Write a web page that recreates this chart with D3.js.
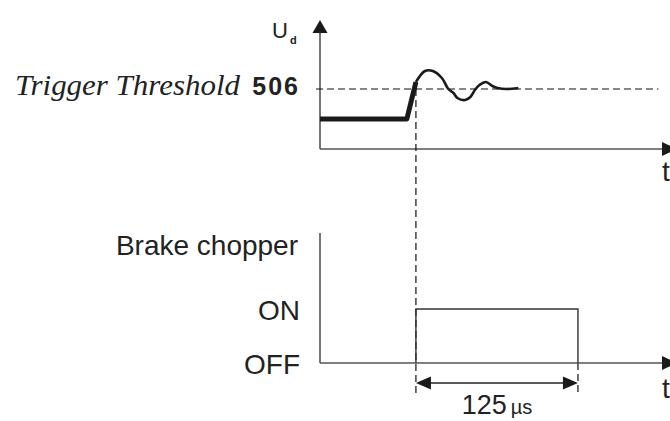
<!DOCTYPE html>
<meta charset="utf-8">
<head>
    <title>Brake chopper trigger</title>
</head>
<style>
  body { margin: 0; background: #fff; overflow: hidden; }
  svg { display: block; }
  .lbl { font-family: "Liberation Sans", Arial, sans-serif; fill: #222; }
  .axis { stroke: #555; stroke-width: 1.6px; fill: none; }
  .guide { stroke: #111; stroke-width: 1.2px; stroke-dasharray: 7,4; fill: none; }
</style>
<body>
<script src="https://cdn.jsdelivr.net/npm/d3@7"></script>
<script>
// time in microseconds, voltage in volts
var curveT   = [74, 81, 87, 94, 99, 103, 106, 112, 116, 120, 123, 128, 133, 137, 144, 153];
var curveU   = [513, 524, 524, 517, 506, 502, 497, 495, 498, 506, 510, 513, 509, 507, 506, 507];
var preT     = [0, 67, 74];
var preU     = [476, 476, 513];
var threshold = 506;
var thresholdEnd = 261;
var triggerT = 74;
var pulseLen = 125;
var states = ["OFF", "ON"];
var brakeT = [74, 74, 199, 199];
var brakeS = ["OFF", "ON", "ON", "OFF"];

var width = 670, height = 421;

var svg = d3.select("body").append("svg")
    .attr("width", width)
    .attr("height", height);

// shared time axis
var x = d3.scaleLinear().domain([0, 270]).range([320, 670]);

// top panel: voltage
var yU = d3.scaleLinear().domain([446, 576]).range([149, 19]);
// bottom panel: chopper state
var yS = d3.scalePoint().domain(states).range([363, 309]);

function arrow(g, tipX, tipY, dir, len, half) {
  var pts;
  if (dir === "up") pts = [[tipX, tipY], [tipX - half, tipY + len], [tipX + half, tipY + len]];
  else if (dir === "right") pts = [[tipX, tipY], [tipX - len, tipY - half], [tipX - len, tipY + half]];
  else pts = [[tipX, tipY], [tipX + len, tipY - half], [tipX + len, tipY + half]];
  g.append("path").attr("d", "M" + pts.join("L") + "Z").attr("fill", "#1a1a1a");
}

// ---- top panel axes
svg.append("line").attr("class", "axis")
    .attr("x1", x(0)).attr("x2", x(0))
    .attr("y1", yU(446)).attr("y2", yU(570));
arrow(svg, x(0), 20, "up", 13, 7.5);
svg.append("line").attr("class", "axis")
    .attr("x1", x(0)).attr("x2", 664)
    .attr("y1", yU(446)).attr("y2", yU(446));
arrow(svg, 677, yU(446), "right", 15, 7);

// threshold
svg.append("line").attr("class", "guide")
    .attr("x1", x(0) - 4).attr("x2", x(thresholdEnd))
    .attr("y1", yU(threshold)).attr("y2", yU(threshold));

// trigger vertical
svg.append("line").attr("class", "guide")
    .attr("x1", x(triggerT)).attr("x2", x(triggerT))
    .attr("y1", yU(threshold)).attr("y2", 393);
svg.append("line").attr("class", "guide")
    .attr("x1", x(triggerT + pulseLen)).attr("x2", x(triggerT + pulseLen))
    .attr("y1", yS("OFF")).attr("y2", 393);

// voltage curve
var pre = preT.map(function(t, i) { return [t, preU[i]]; });
var post = curveT.map(function(t, i) { return [t, curveU[i]]; });
var lineU = d3.line().x(function(d) { return x(d[0]); }).y(function(d) { return yU(d[1]); });

svg.append("path")
    .attr("d", lineU(pre))
    .attr("fill", "none").attr("stroke", "#1a1a1a")
    .attr("stroke-width", 5).attr("stroke-linejoin", "round");
svg.append("path")
    .attr("d", lineU.curve(d3.curveCatmullRom)(post))
    .attr("fill", "none").attr("stroke", "#1a1a1a")
    .attr("stroke-width", 2.6).attr("stroke-linejoin", "round");

// labels top
svg.append("text").attr("class", "lbl")
    .attr("x", 272).attr("y", 38)
    .style("font-size", "22px").text("U");
svg.append("text").attr("class", "lbl")
    .attr("x", 290).attr("y", 44)
    .style("font-size", "11px").style("font-weight", "bold").text("d");

svg.append("text")
    .attr("x", 15).attr("y", 95)
    .attr("textLength", 225).attr("lengthAdjust", "spacingAndGlyphs")
    .style("font-family", "'Liberation Serif', 'Times New Roman', serif")
    .style("font-style", "italic").style("font-size", "30px").style("fill", "#222")
    .text("Trigger Threshold");
svg.append("text").attr("class", "lbl")
    .attr("x", 300).attr("y", 95).attr("text-anchor", "end")
    .style("font-size", "25px").style("font-weight", "bold").style("letter-spacing", "2px")
    .text(threshold);

svg.append("text").attr("class", "lbl")
    .attr("x", 662).attr("y", 181)
    .style("font-size", "28px").text("t");

// ---- bottom panel
svg.append("line").attr("class", "axis")
    .attr("x1", x(0)).attr("x2", x(0))
    .attr("y1", 233).attr("y2", yS("OFF"));
svg.append("line").attr("class", "axis")
    .attr("x1", x(0)).attr("x2", 664)
    .attr("y1", yS("OFF")).attr("y2", yS("OFF"));
arrow(svg, 677, yS("OFF"), "right", 15, 7);

var brake = brakeT.map(function(t, i) { return [t, brakeS[i]]; });
svg.append("path")
    .attr("d", d3.line().x(function(d) { return x(d[0]); }).y(function(d) { return yS(d[1]); })(brake))
    .attr("fill", "none").attr("stroke", "#333").attr("stroke-width", 1.4);

svg.selectAll(".state")
    .data(states)
  .enter().append("text")
    .attr("class", "lbl state")
    .attr("x", 300).attr("y", function(d) { return yS(d); })
    .attr("dy", "0.38em").attr("text-anchor", "end")
    .style("font-size", "28px")
    .text(function(d) { return d; });

svg.append("text").attr("class", "lbl")
    .attr("x", 298).attr("y", 255).attr("text-anchor", "end")
    .style("font-size", "28px").text("Brake chopper");

svg.append("text").attr("class", "lbl")
    .attr("x", 662).attr("y", 398)
    .style("font-size", "28px").text("t");

// dimension arrow for pulse length
var dimY = 383;
svg.append("line")
    .attr("x1", x(triggerT) + 10).attr("x2", x(triggerT + pulseLen) - 10)
    .attr("y1", dimY).attr("y2", dimY)
    .attr("stroke", "#222").attr("stroke-width", 1.5);
arrow(svg, x(triggerT), dimY, "left", 15, 6.5);
arrow(svg, x(triggerT + pulseLen), dimY, "right", 15, 6.5);

var dim = svg.append("text").attr("class", "lbl")
    .attr("x", x(triggerT + pulseLen / 2)).attr("y", 414)
    .attr("text-anchor", "middle");
dim.append("tspan").style("font-size", "27px").text(pulseLen);
dim.append("tspan").style("font-size", "20px").attr("dx", 4).text("µs");
</script>
</body>
